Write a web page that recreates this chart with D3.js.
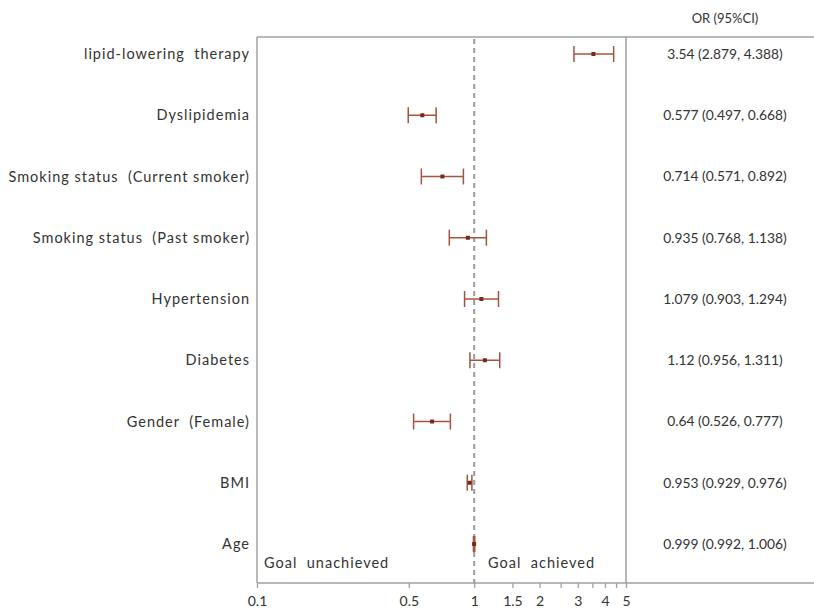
<!DOCTYPE html>
<html><head><meta charset="utf-8">
<script src="https://cdn.jsdelivr.net/npm/d3@7"></script>
<style>
html,body{margin:0;padding:0;background:#fff;}
text{font-family:Lato,"Open Sans",sans-serif;}
</style></head>
<body><svg id="c" width="814" height="610"></svg>
<script>
const categories = ["lipid-lowering  therapy","Dyslipidemia","Smoking status  (Current smoker)","Smoking status  (Past smoker)","Hypertension","Diabetes","Gender  (Female)","BMI","Age"];
const orValues = [3.54, 0.577, 0.714, 0.935, 1.079, 1.12, 0.64, 0.953, 0.999];
const ciLow = [2.879, 0.497, 0.571, 0.768, 0.903, 0.956, 0.526, 0.929, 0.992];
const ciHigh = [4.388, 0.668, 0.892, 1.138, 1.294, 1.311, 0.777, 0.976, 1.006];
const ciText = ["3.54 (2.879, 4.388)","0.577 (0.497, 0.668)","0.714 (0.571, 0.892)","0.935 (0.768, 1.138)","1.079 (0.903, 1.294)","1.12 (0.956, 1.311)","0.64 (0.526, 0.777)","0.953 (0.929, 0.976)","0.999 (0.992, 1.006)"];
const tickValues = [0.1, 0.5, 1, 1.5, 2, 2.5, 3, 3.5, 4, 4.5, 5];
const tickLabels = {0.1:"0.1",0.5:"0.5",1:"1",1.5:"1.5",2:"2",3:"3",4:"4",5:"5"};

const svg = d3.select("#c");
const L = 257, R = 626, T = 37, B = 583;
const x = d3.scaleLog().domain([0.1, 5]).range([L, R]);
const y = d3.scalePoint().domain(categories).range([54, 544]);

const lineCol = "#a0a0a0";
// frame
svg.append("line").attr("x1",L).attr("x2",814).attr("y1",T).attr("y2",T).attr("stroke",lineCol).attr("stroke-width",1.5);
svg.append("line").attr("x1",L).attr("x2",L).attr("y1",T).attr("y2",B).attr("stroke",lineCol).attr("stroke-width",1.5);
svg.append("line").attr("x1",R).attr("x2",R).attr("y1",T).attr("y2",B).attr("stroke",lineCol).attr("stroke-width",1.5);

// axis
const axis = d3.axisBottom(x).tickValues(tickValues).tickSize(5).tickFormat(d => tickLabels[d] || "");
const ax = svg.append("g").attr("transform",`translate(0,${B})`).call(axis);
ax.select(".domain").remove();
ax.selectAll(".tick line").attr("stroke",lineCol).attr("stroke-width",1.3);
ax.selectAll(".tick text").attr("fill","#333").attr("font-size",14).attr("dy","1.1em");
svg.append("line").attr("x1",L).attr("x2",814).attr("y1",B).attr("y2",B).attr("stroke",lineCol).attr("stroke-width",1.5);

// reference line
svg.append("line").attr("x1",x(1)).attr("x2",x(1)).attr("y1",T+2).attr("y2",B)
  .attr("stroke","#9a9a9a").attr("stroke-width",2).attr("stroke-dasharray","5,4");

// labels
svg.append("g").selectAll("text").data(categories).join("text")
  .attr("x",250).attr("y",d=>y(d)).attr("dy","0.35em").attr("text-anchor","end")
  .attr("fill","#333").attr("font-size",14.5).attr("letter-spacing","1px")
  .style("white-space","pre").text(d=>d);

// error bars
const col = "#a3553f";
const g = svg.append("g");
categories.forEach((c,i)=>{
  const yy = y(c);
  g.append("line").attr("x1",x(ciLow[i])).attr("x2",x(ciHigh[i])).attr("y1",yy).attr("y2",yy).attr("stroke",col).attr("stroke-width",1.5);
  g.append("line").attr("x1",x(ciLow[i])).attr("x2",x(ciLow[i])).attr("y1",yy-8).attr("y2",yy+8).attr("stroke",col).attr("stroke-width",1.5);
  g.append("line").attr("x1",x(ciHigh[i])).attr("x2",x(ciHigh[i])).attr("y1",yy-8).attr("y2",yy+8).attr("stroke",col).attr("stroke-width",1.5);
  g.append("rect").attr("x",x(orValues[i])-2).attr("y",yy-2).attr("width",4).attr("height",4).attr("fill","#7a2a1a");
});

// goal labels
svg.append("text").attr("x",264).attr("y",563).attr("dy","0.35em").attr("fill","#333").attr("font-size",14.5).attr("letter-spacing","1px").style("white-space","pre").text("Goal  unachieved");
svg.append("text").attr("x",488).attr("y",563).attr("dy","0.35em").attr("fill","#333").attr("font-size",14.5).attr("letter-spacing","1px").style("white-space","pre").text("Goal  achieved");

// table
svg.append("text").attr("x",725).attr("y",18).attr("dy","0.35em").attr("text-anchor","middle").attr("fill","#333").attr("font-size",13).text("OR (95%CI)");
svg.append("g").selectAll("text").data(ciText).join("text")
  .attr("x",725).attr("y",(d,i)=>y(categories[i])).attr("dy","0.35em").attr("text-anchor","middle")
  .attr("fill","#333").attr("font-size",13.8).text(d=>d);
</script></body></html>
